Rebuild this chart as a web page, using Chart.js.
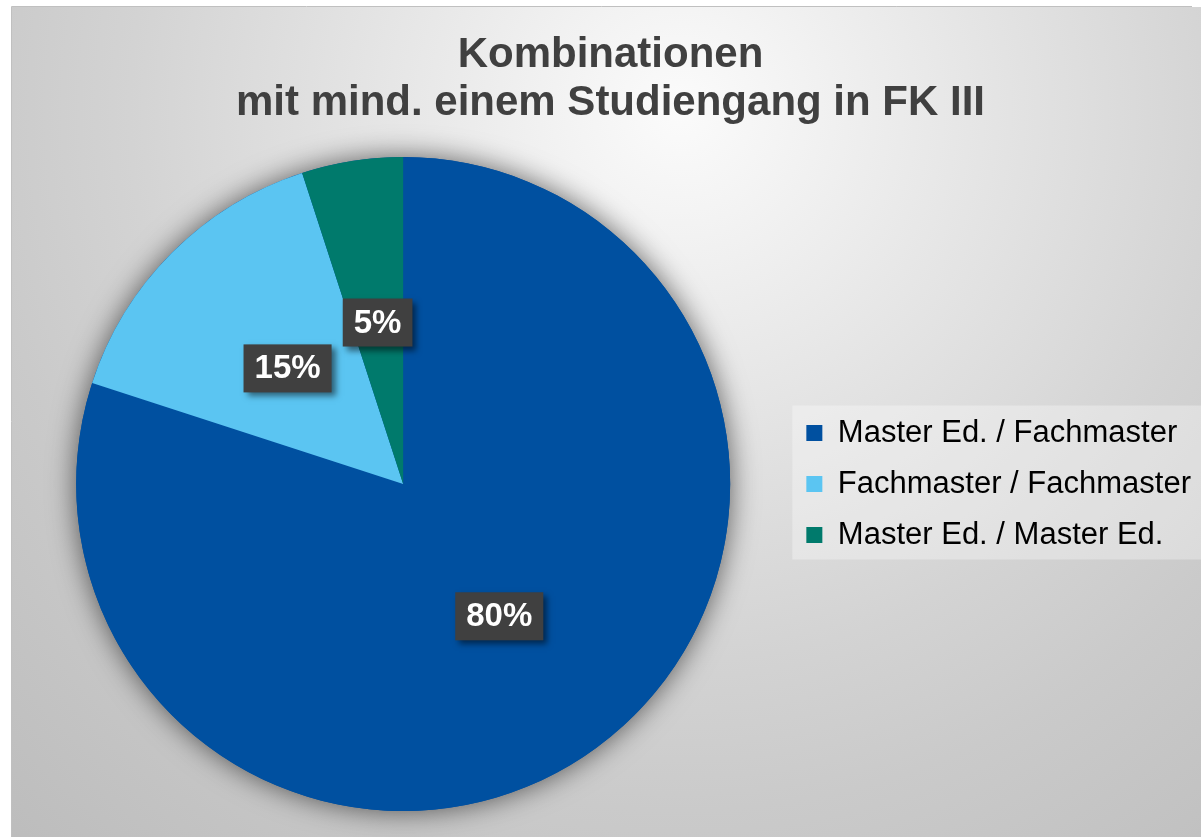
<!DOCTYPE html>
<html>
<head>
<meta charset="utf-8">
<script src="https://cdn.jsdelivr.net/npm/chart.js@4/dist/chart.umd.min.js"></script>
<style>
html, body { margin: 0; padding: 0; background: #fff; }
</style>
</head>
<body>
<canvas id="chart" width="1201" height="837"></canvas>
<script>
const titel = ["Kombinationen", "mit mind. einem Studiengang in FK III"]
const kategorien = ["Master Ed. / Fachmaster", "Fachmaster / Fachmaster", "Master Ed. / Master Ed."]
const anteile = [80, 15, 5]
const farben = ["#0050a0", "#5bc5f2", "#007a6c"]

const schrift = "'Liberation Sans', Arial, sans-serif"

// Hintergrund mit Verlauf, Rahmen und Legendenkasten
const hintergrund = {
    id: "hintergrund",
    beforeDraw(chart) {
        const ctx = chart.ctx
        ctx.save()
        ctx.fillStyle = "#fff"
        ctx.fillRect(0, 0, chart.width, chart.height)
        let g = ctx.createRadialGradient(680, 110, 0, 680, 110, 1000)
        g.addColorStop(0, "#fbfbfb")
        g.addColorStop(0.1, "#f4f4f4")
        g.addColorStop(0.33, "#e3e3e3")
        g.addColorStop(0.55, "#d3d3d3")
        g.addColorStop(0.7, "#cacaca")
        g.addColorStop(1, "#bcbcbc")
        ctx.fillStyle = g
        ctx.fillRect(12, 7, chart.width - 12, chart.height - 7)
        ctx.strokeStyle = "#c0c0c0"
        ctx.lineWidth = 1
        ctx.beginPath()
        ctx.moveTo(11.5, chart.height)
        ctx.lineTo(11.5, 6.5)
        ctx.lineTo(1192, 6.5)
        ctx.stroke()

        let boxes = chart.legend.legendHitBoxes
        if (boxes && boxes.length) {
            let letzte = boxes[boxes.length - 1]
            let oben = boxes[0].top - 12
            let unten = letzte.top + letzte.height + 9
            let links = Math.min(...boxes.map(b => b.left)) - 14
            ctx.fillStyle = "rgba(255,255,255,0.32)"
            ctx.fillRect(links, oben, chart.width - links, unten - oben)
        }
        ctx.restore()
    }
}

// weicher Schatten unter dem Kreis
const schatten = {
    id: "schatten",
    beforeDatasetsDraw(chart) {
        const ctx = chart.ctx
        let arc = chart.getDatasetMeta(0).data[0]
        if (!arc) return
        ctx.save()
        ctx.shadowColor = "rgba(0,0,0,0.6)"
        ctx.shadowBlur = 28
        ctx.fillStyle = farben[0]
        ctx.beginPath()
        ctx.arc(arc.x, arc.y, arc.outerRadius, 0, 2 * Math.PI)
        ctx.fill()
        ctx.restore()
    }
}

// Prozentwerte in dunklen Kaesten
const beschriftung = {
    id: "beschriftung",
    afterDatasetsDraw(chart) {
        const ctx = chart.ctx
        let summe = anteile.reduce((a, b) => a + b, 0)
        chart.getDatasetMeta(0).data.forEach((arc, i) => {
            let pos = arc.tooltipPosition()
            let text = Math.round(anteile[i] / summe * 100) + "%"
            ctx.save()
            ctx.font = "bold 33px " + schrift
            let w = ctx.measureText(text).width + 22
            let h = 48
            ctx.shadowColor = "rgba(0,0,0,0.5)"
            ctx.shadowBlur = 6
            ctx.shadowOffsetX = 4
            ctx.shadowOffsetY = 4
            ctx.fillStyle = "#404040"
            ctx.fillRect(pos.x - w / 2, pos.y - h / 2, w, h)
            ctx.shadowColor = "transparent"
            ctx.fillStyle = "#fff"
            ctx.textAlign = "center"
            ctx.textBaseline = "middle"
            ctx.fillText(text, pos.x, pos.y + 1)
            ctx.restore()
        })
    }
}

const ctx = document.getElementById("chart").getContext("2d")
const kreis = new Chart(ctx, {
    type: "pie",
    data: {
        labels: kategorien,
        datasets: [{
            data: anteile,
            backgroundColor: farben,
            borderWidth: 0
        }]
    },
    options: {
        responsive: false,
        animation: false,
        layout: { padding: { left: 20, right: 0, top: 0, bottom: 26 } },
        plugins: {
            title: {
                display: true,
                text: titel,
                color: "#404040",
                font: { family: schrift, size: 42, weight: "bold", lineHeight: 1.143 },
                padding: { top: 31, bottom: 30 }
            },
            legend: {
                position: "right",
                fullSize: false,
                labels: {
                    boxWidth: 16,
                    boxHeight: 16,
                    padding: 20,
                    color: "#000",
                    font: { family: schrift, size: 31 }
                }
            },
            tooltip: { enabled: false }
        }
    },
    plugins: [hintergrund, schatten, beschriftung]
})
</script>
</body>
</html>
